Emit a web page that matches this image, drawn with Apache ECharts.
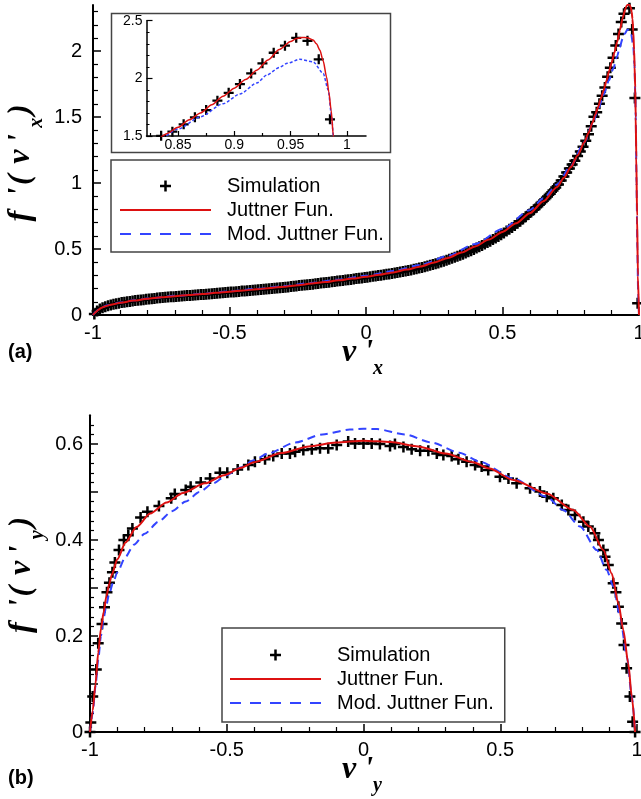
<!DOCTYPE html>
<html><head><meta charset="utf-8">
<script src="https://cdn.jsdelivr.net/npm/echarts@6/dist/echarts.min.js"></script>
<style>html,body{margin:0;padding:0;background:#fff}#c{width:641px;height:799px}</style>
</head><body><div id="c"></div>
<script>
// ---------- data (a): distribution of v'x ----------
const simA = [
[-0.995,0.008],[-0.985,0.03],[-0.975,0.045],[-0.965,0.055],[-0.955,0.063],[-0.945,0.07],[-0.935,0.076],[-0.925,0.081],[-0.915,0.086],[-0.905,0.09],
[-0.895,0.094],[-0.885,0.097],[-0.875,0.1],[-0.865,0.103],[-0.855,0.106],[-0.845,0.109],[-0.835,0.111],[-0.825,0.114],[-0.815,0.116],[-0.805,0.12],
[-0.795,0.122],[-0.785,0.124],[-0.775,0.126],[-0.765,0.128],[-0.755,0.13],[-0.745,0.132],[-0.735,0.134],[-0.725,0.136],[-0.715,0.138],[-0.705,0.139],
[-0.695,0.141],[-0.685,0.142],[-0.675,0.144],[-0.665,0.145],[-0.655,0.147],[-0.645,0.148],[-0.635,0.15],[-0.625,0.151],[-0.615,0.153],[-0.605,0.155],
[-0.595,0.156],[-0.585,0.158],[-0.575,0.16],[-0.565,0.161],[-0.555,0.163],[-0.545,0.165],[-0.535,0.167],[-0.525,0.168],[-0.515,0.17],[-0.505,0.172],
[-0.495,0.174],[-0.485,0.175],[-0.475,0.177],[-0.465,0.179],[-0.455,0.181],[-0.445,0.182],[-0.435,0.184],[-0.425,0.186],[-0.415,0.188],[-0.405,0.19],
[-0.395,0.191],[-0.385,0.193],[-0.375,0.195],[-0.365,0.197],[-0.355,0.199],[-0.345,0.201],[-0.335,0.203],[-0.325,0.205],[-0.315,0.207],[-0.305,0.209],
[-0.295,0.211],[-0.285,0.213],[-0.275,0.216],[-0.265,0.218],[-0.255,0.22],[-0.245,0.223],[-0.235,0.225],[-0.225,0.227],[-0.215,0.23],[-0.205,0.232],
[-0.195,0.234],[-0.185,0.237],[-0.175,0.239],[-0.165,0.242],[-0.155,0.244],[-0.145,0.247],[-0.135,0.249],[-0.125,0.252],[-0.115,0.254],[-0.105,0.257],
[-0.095,0.26],[-0.085,0.262],[-0.075,0.265],[-0.065,0.268],[-0.055,0.27],[-0.045,0.273],[-0.035,0.276],[-0.025,0.279],[-0.015,0.281],[-0.005,0.284],
[0.005,0.287],[0.015,0.29],[0.025,0.293],[0.035,0.296],[0.045,0.299],[0.055,0.302],[0.065,0.305],[0.075,0.308],[0.085,0.311],[0.095,0.315],
[0.105,0.318],[0.115,0.322],[0.125,0.326],[0.135,0.33],[0.145,0.334],[0.155,0.338],[0.165,0.342],[0.175,0.347],[0.185,0.351],[0.195,0.356],
[0.205,0.361],[0.215,0.366],[0.225,0.372],[0.235,0.377],[0.245,0.383],[0.255,0.389],[0.265,0.395],[0.275,0.402],[0.285,0.408],[0.295,0.415],
[0.305,0.422],[0.315,0.43],[0.325,0.437],[0.335,0.445],[0.345,0.453],[0.355,0.461],[0.365,0.47],[0.375,0.479],[0.385,0.488],[0.395,0.497],
[0.405,0.507],[0.415,0.517],[0.425,0.527],[0.435,0.538],[0.445,0.549],[0.455,0.56],[0.465,0.572],[0.475,0.584],[0.485,0.596],[0.495,0.609],
[0.505,0.622],[0.515,0.636],[0.525,0.65],[0.535,0.664],[0.545,0.679],[0.555,0.695],[0.565,0.711],[0.575,0.727],[0.585,0.744],[0.595,0.762],
[0.605,0.78],[0.615,0.798],[0.625,0.817],[0.635,0.836],[0.645,0.856],[0.655,0.877],[0.665,0.898],[0.675,0.92],[0.685,0.943],[0.695,0.966],
[0.705,0.99],[0.715,1.02],[0.725,1.05],[0.735,1.08],[0.745,1.11],[0.755,1.14],[0.765,1.17],[0.775,1.205],[0.785,1.24],[0.795,1.275],
[0.805,1.32],[0.815,1.37],[0.825,1.43],[0.835,1.502],[0.845,1.537],[0.855,1.601],[0.865,1.662],[0.875,1.725],[0.885,1.806],[0.895,1.875],
[0.905,1.95],[0.915,2.043],[0.925,2.13],[0.935,2.222],[0.945,2.283],[0.955,2.352],[0.965,2.326],[0.975,2.165],[0.985,1.645],[0.995,0.09]
];
const juttnerA = [
[-1,0],[-0.995,0.012],[-0.99,0.022],[-0.98,0.04],[-0.97,0.053],[-0.96,0.062],[-0.95,0.069],[-0.93,0.08],[-0.9,0.093],[-0.85,0.109],
[-0.8,0.123],[-0.75,0.134],[-0.7,0.143],[-0.65,0.151],[-0.6,0.159],[-0.55,0.168],[-0.5,0.177],[-0.45,0.186],[-0.4,0.195],[-0.35,0.205],
[-0.3,0.215],[-0.25,0.226],[-0.2,0.238],[-0.15,0.25],[-0.1,0.263],[-0.05,0.276],[0,0.29],[0.05,0.305],[0.1,0.323],[0.15,0.344],
[0.2,0.368],[0.25,0.398],[0.3,0.433],[0.35,0.473],[0.4,0.52],[0.45,0.572],[0.5,0.63],[0.55,0.695],[0.6,0.772],[0.65,0.862],
[0.7,0.97],[0.725,1.04],[0.75,1.12],[0.775,1.21],[0.8,1.31],[0.815,1.38],[0.83,1.46],[0.84,1.52],[0.85,1.575],[0.86,1.64],
[0.87,1.7],[0.88,1.77],[0.89,1.845],[0.9,1.915],[0.91,1.99],[0.92,2.07],[0.93,2.16],[0.94,2.25],[0.95,2.32],[0.955,2.345],
[0.96,2.355],[0.965,2.352],[0.97,2.332],[0.973,2.3],[0.976,2.245],[0.979,2.15],[0.982,2.01],[0.984,1.88],[0.986,1.725],[0.988,1.5],
[0.99,1.2],[0.993,0.75],[0.996,0.3],[1,0]
];
const modJuttnerA = [
[-1,0],[-0.995,0.013],[-0.99,0.024],[-0.98,0.042],[-0.97,0.056],[-0.95,0.072],[-0.9,0.095],[-0.85,0.111],[-0.8,0.125],[-0.7,0.145],
[-0.6,0.161],[-0.5,0.179],[-0.4,0.198],[-0.3,0.219],[-0.2,0.243],[-0.1,0.268],[0,0.297],[0.1,0.333],[0.2,0.38],[0.3,0.448],
[0.4,0.538],[0.5,0.652],[0.6,0.795],[0.65,0.885],[0.7,0.99],[0.75,1.13],[0.8,1.31],[0.83,1.45],[0.85,1.56],[0.87,1.667],
[0.89,1.78],[0.905,1.864],[0.92,1.96],[0.929,2.029],[0.94,2.095],[0.947,2.13],[0.958,2.165],[0.97,2.144],[0.979,2.043],[0.9834,1.9],
[0.9865,1.667],[0.988,1.5],[0.991,1.0],[0.994,0.5],[0.997,0.15],[1,0]
];
// ---------- data (b): distribution of v'y ----------
const simB = [
[-1,0],[-0.997,0.02],[-0.99,0.074],[-0.977,0.13],[-0.97,0.185],[-0.956,0.225],[-0.947,0.26],[-0.938,0.291],[-0.929,0.311],[-0.918,0.333],
[-0.909,0.353],[-0.894,0.379],[-0.876,0.4],[-0.86,0.41],[-0.845,0.424],[-0.815,0.447],[-0.79,0.459],[-0.748,0.471],[-0.703,0.487],[-0.69,0.496],
[-0.65,0.504],[-0.632,0.511],[-0.595,0.52],[-0.561,0.528],[-0.525,0.54],[-0.498,0.54],[-0.46,0.547],[-0.421,0.556],[-0.397,0.563],[-0.36,0.568],
[-0.33,0.575],[-0.299,0.58],[-0.269,0.58],[-0.25,0.584],[-0.22,0.5875],[-0.189,0.589],[-0.159,0.591],[-0.129,0.591],[-0.098,0.598],[-0.056,0.605],
[-0.031,0.601],[0,0.601],[0.03,0.601],[0.06,0.6],[0.097,0.596],[0.115,0.6],[0.146,0.594],[0.176,0.589],[0.207,0.586],[0.237,0.586],
[0.268,0.58],[0.292,0.577],[0.3225,0.575],[0.347,0.568],[0.377,0.563],[0.408,0.556],[0.432,0.553],[0.456,0.546],[0.499,0.532],[0.53,0.528],
[0.56,0.518],[0.609,0.508],[0.645,0.501],[0.67,0.49],[0.694,0.487],[0.725,0.473],[0.749,0.4625],[0.773,0.452],[0.804,0.438],[0.822,0.428],
[0.846,0.414],[0.859,0.4],[0.877,0.379],[0.883,0.365],[0.895,0.348],[0.913,0.31],[0.923,0.291],[0.932,0.261],[0.944,0.226],[0.9525,0.181],
[0.962,0.133],[0.974,0.074],[0.984,0.0215],[0.993,0]
];
const juttnerB = [
[-1,0],[-0.99,0.045],[-0.98,0.1],[-0.97,0.165],[-0.96,0.215],[-0.95,0.25],[-0.94,0.283],[-0.93,0.308],[-0.92,0.328],[-0.9,0.36],
[-0.87,0.395],[-0.83,0.427],[-0.78,0.455],[-0.72,0.478],[-0.66,0.498],[-0.58,0.518],[-0.51,0.535],[-0.45,0.55],[-0.4,0.562],[-0.3,0.581],
[-0.2,0.595],[-0.1,0.603],[0,0.607],[0.1,0.604],[0.2,0.595],[0.3,0.58],[0.4,0.562],[0.46,0.549],[0.548,0.525],[0.67,0.497],
[0.767,0.4625],[0.828,0.428],[0.877,0.379],[0.9075,0.33],[0.932,0.268],[0.95,0.2125],[0.968,0.143],[0.981,0.0736],[0.993,0]
];
const modJuttnerB = [
[-1,0],[-0.99,0.04],[-0.98,0.095],[-0.97,0.15],[-0.96,0.2],[-0.95,0.238],[-0.94,0.265],[-0.93,0.288],[-0.915,0.312],[-0.9,0.333],
[-0.87,0.365],[-0.84,0.39],[-0.8,0.413],[-0.75,0.438],[-0.7,0.46],[-0.65,0.48],[-0.6,0.5],[-0.55,0.518],[-0.5,0.535],[-0.45,0.551],
[-0.4,0.566],[-0.35,0.58],[-0.25,0.603],[-0.15,0.62],[-0.05,0.63],[0,0.632],[0.05,0.631],[0.15,0.62],[0.25,0.603],[0.35,0.582],
[0.426,0.563],[0.548,0.528],[0.67,0.49],[0.73,0.4625],[0.792,0.428],[0.853,0.379],[0.889,0.3375],[0.914,0.303],[0.938,0.24],[0.963,0.157],
[0.981,0.074],[0.993,0]
];
// ---------- ticks ----------
const yMajorA = [0,0.5,1,1.5,2];
const yMinorA = [0.1,0.2,0.3,0.4,0.6,0.7,0.8,0.9,1.1,1.2,1.3,1.4,1.6,1.7,1.8,1.9,2.1,2.2,2.3];
const insetXMajor = [0.85,0.9,0.95,1];
const insetXMinor = [0.825,0.875,0.925,0.975];
const yMajorB = [0,0.1,0.2,0.3,0.4,0.5,0.6];
const yLabelB = [0,0.2,0.4,0.6];
const yMinorB = [0.02,0.04,0.06,0.08,0.12,0.14,0.16,0.18,0.22,0.24,0.26,0.28,0.32,0.34,0.36,0.38,0.42,0.44,0.46,0.48,0.52,0.54,0.56,0.58,0.62,0.64];
const legendNames = ['Simulation','Juttner Fun.','Mod. Juttner Fun.'];

const RED = '#dd1111', BLUE = '#3344ff';
const SANS = '"Liberation Sans", Arial, Helvetica, sans-serif';
const SERIF = '"Liberation Serif", "DejaVu Serif", serif';
const CROSS = 'path://M4.25,0H6.75V4.25H11V6.75H6.75V11H4.25V6.75H0V4.25H4.25Z';
const LINEICON = 'path://M0,0H91V2H0Z';
const DASHICON = 'path://M0,0H11V2H0Z M20,0H31V2H20Z M40,0H51V2H40Z M60,0H71V2H60Z M80,0H91V2H80Z';

function axisBase(extra) {
  const base = {
    type: 'value',
    axisLine: {show: true, onZero: false, lineStyle: {color: '#000', width: 2}},
    axisTick: {show: true, inside: true, length: 8, lineStyle: {color: '#000', width: 1.5}},
    minorTick: {show: false},
    splitLine: {show: false},
    minorSplitLine: {show: false},
    axisLabel: {color: '#000', fontSize: 20, fontFamily: SANS}
  };
  for (const k in extra) {
    if (typeof extra[k] === 'object' && !Array.isArray(extra[k]) && base[k]) base[k] = Object.assign({}, base[k], extra[k]);
    else base[k] = extra[k];
  }
  return base;
}
function overlay(gridIndex, min, max, pos, values, len) {
  return {
    type: 'value', gridIndex, min, max, position: pos, offset: 0,
    axisLine: {show: false, onZero: false},
    axisTick: {show: true, inside: true, length: len, customValues: values, lineStyle: {color: '#000', width: 1.2}},
    axisLabel: {show: false}, splitLine: {show: false}
  };
}
function legendCfg(left, top, padding) {
  return {
    orient: 'vertical', left, top, padding,
    itemWidth: 91, itemHeight: 11, itemGap: 4,
    borderColor: '#444', borderWidth: 1.5, backgroundColor: '#fff',
    selectedMode: false,
    textStyle: {fontSize: 20, lineHeight: 20, color: '#000', fontFamily: SANS, padding: [0, 0, 0, 11]},
    data: [
      {name: legendNames[0], icon: CROSS, itemStyle: {color: '#000', borderWidth: 0, opacity: 1}},
      {name: legendNames[1], icon: LINEICON, itemStyle: {color: RED, borderWidth: 0, opacity: 1}},
      {name: legendNames[2], icon: DASHICON, itemStyle: {color: BLUE, borderWidth: 0, opacity: 1}}
    ]
  };
}
function simSeries(data, xi, yi, size) {
  return {name: legendNames[0], type: 'scatter', xAxisIndex: xi, yAxisIndex: yi, data,
    symbol: CROSS, symbolSize: size, itemStyle: {color: '#000', opacity: 1}, clip: true, z: 2};
}
function lineSeries(name, data, xi, yi, color, width, dash, z) {
  return {name, type: 'line', xAxisIndex: xi, yAxisIndex: yi, data, symbol: 'none', showSymbol: false,
    smooth: 0.25, smoothMonotone: 'x', clip: true, z,
    lineStyle: {color, width, type: dash}, itemStyle: {color}};
}
const titleRich = {
  m: {fontFamily: SERIF, fontWeight: 'bold', fontStyle: 'italic', fontSize: 32, lineHeight: 50, verticalAlign: 'middle', fill: '#000'},
  s: {fontFamily: SERIF, fontWeight: 'bold', fontStyle: 'italic', fontSize: 20, lineHeight: 20, verticalAlign: 'top', padding: [31, 0, 0, 0], fill: '#000'}
};
function titleText(x, y, text, rot, align) {
  return {type: 'text', x, y, rotation: rot, silent: true,
    style: {text, rich: titleRich, align, textAlign: align, verticalAlign: 'middle', textVerticalAlign: 'middle'}};
}
const yTitleA = "{m|f\u2009 '\u200A( \u200Av\u2009'\u2009}{s|x}{m|\u200A)}";
const yTitleB = "{m|f\u2009 '\u200A( \u200Av\u2009'\u2009}{s|y}{m|\u200A)}";

const option = {
  animation: false,
  backgroundColor: '#fff',
  textStyle: {fontFamily: SANS},
  grid: [
    {left: 93, right: 2, top: 5, bottom: 484, outerBoundsMode: 'none', containLabel: false},
    {left: 146.5, right: 275, top: 20.7, bottom: 663, outerBoundsMode: 'none', containLabel: false},
    {left: 90, right: 4, top: 415.2, bottom: 67, outerBoundsMode: 'none', containLabel: false}
  ],
  xAxis: [
    axisBase({gridIndex: 0, min: -1, max: 1, interval: 0.5,
      minorTick: {show: true, splitNumber: 5, length: 5, lineStyle: {color: '#000', width: 1.2}},
      axisLabel: {margin: 8}}),
    axisBase({gridIndex: 1, min: 0.822, max: 1.017,
      axisLine: {lineStyle: {color: '#000', width: 1.5}},
      axisTick: {length: 5, customValues: insetXMajor, lineStyle: {color: '#000', width: 1.2}},
      axisLabel: {customValues: insetXMajor, fontSize: 14, margin: 2}}),
    overlay(1, 0.822, 1.017, 'bottom', insetXMinor, 3),
    axisBase({gridIndex: 2, min: -1, max: 1, interval: 0.5,
      minorTick: {show: true, splitNumber: 5, length: 5, lineStyle: {color: '#000', width: 1.2}},
      axisLabel: {margin: 8}})
  ],
  yAxis: [
    axisBase({gridIndex: 0, min: 0, max: 2.35,
      axisTick: {customValues: yMajorA}, axisLabel: {customValues: yMajorA, margin: 11}}),
    overlay(0, 0, 2.35, 'left', yMinorA, 5),
    axisBase({gridIndex: 1, min: 1.5, max: 2.5, interval: 0.5,
      axisLine: {lineStyle: {color: '#000', width: 1.5}},
      axisTick: {length: 6, lineStyle: {color: '#000', width: 1.2}},
      minorTick: {show: true, splitNumber: 5, length: 3, lineStyle: {color: '#000', width: 1}},
      axisLabel: {fontSize: 14, margin: 4}}),
    axisBase({gridIndex: 2, min: 0, max: 0.66,
      axisTick: {customValues: yMajorB}, axisLabel: {customValues: yLabelB, margin: 7}}),
    overlay(2, 0, 0.66, 'left', yMinorB, 4)
  ],
  legend: [legendCfg(111, 160, [16, 6, 8, 9]), legendCfg(222, 628, [17, 11, 9, 8])],
  series: [
    simSeries(simA, 0, 0, 11),
    lineSeries(legendNames[2], modJuttnerA, 0, 0, BLUE, 2, [8, 5], 3),
    lineSeries(legendNames[1], juttnerA, 0, 0, RED, 2, 'solid', 4),
    simSeries(simA, 1, 2, 10),
    lineSeries(legendNames[2], modJuttnerA, 1, 2, BLUE, 1.5, [3, 2], 3),
    lineSeries(legendNames[1], juttnerA, 1, 2, RED, 1.5, 'solid', 4),
    simSeries(simB, 3, 3, 11),
    lineSeries(legendNames[2], modJuttnerB, 3, 3, BLUE, 2, [8, 5], 3),
    lineSeries(legendNames[1], juttnerB, 3, 3, RED, 2, 'solid', 4)
  ],
  graphic: [
    {type: 'rect', silent: true, shape: {x: 111.5, y: 13.5, width: 279, height: 139},
      style: {fill: 'none', stroke: '#444', lineWidth: 1.5}},
    {type: 'text', x: 8, y: 352, silent: true,
      style: {text: '(a)', font: 'bold 20px ' + SANS, fill: '#000', verticalAlign: 'middle', textVerticalAlign: 'middle'}},
    {type: 'text', x: 8, y: 778, silent: true,
      style: {text: '(b)', font: 'bold 20px ' + SANS, fill: '#000', verticalAlign: 'middle', textVerticalAlign: 'middle'}},
    titleText(21, 163, yTitleA, Math.PI / 2, 'center'),
    titleText(22, 575, yTitleB, Math.PI / 2, 'center'),
    titleText(342, 353, "{m|v '}{s|x}", 0, 'left'),
    titleText(342, 770, "{m|v '}{s|y}", 0, 'left')
  ]
};
const chart = echarts.init(document.getElementById('c'), null, {renderer: 'canvas'});
chart.setOption(option);
</script>
</body></html>
